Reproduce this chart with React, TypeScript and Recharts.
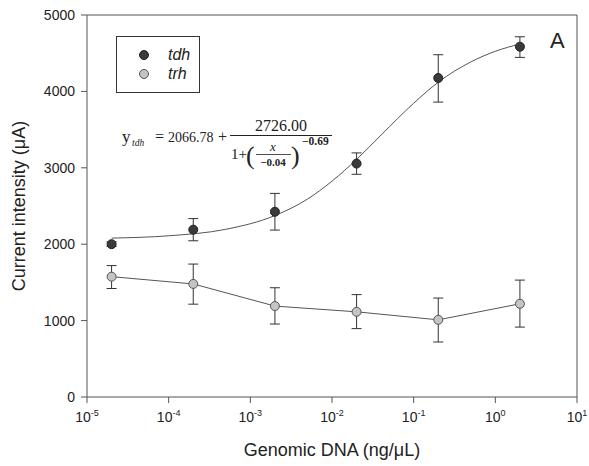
import {
  ComposedChart,
  Customized,
  ErrorBar,
  Legend,
  Line,
  ReferenceLine,
  XAxis,
  YAxis,
} from "recharts";

// measured points (ng/µL)
const concentrations = [2e-5, 2e-4, 2e-3, 2e-2, 2e-1, 2];

const tdhValues = [2000, 2190, 2425, 3055, 4175, 4585];
const tdhLow = [1970, 2045, 2185, 2915, 3860, 4445];
const tdhHigh = [2030, 2335, 2665, 3195, 4480, 4715];

const trhValues = [1575, 1480, 1190, 1115, 1010, 1220];
const trhLow = [1420, 1215, 955, 895, 720, 915];
const trhHigh = [1720, 1740, 1430, 1340, 1295, 1530];

// sigmoid fit for tdh
const fitX = [2e-5, 1e-4, 5e-4, 2e-3, 5e-3, 1e-2, 2e-2, 4e-2, 0.1, 0.2, 0.5, 1, 2];
const fitY = [2080, 2110, 2195, 2375, 2590, 2825, 3110, 3430, 3845, 4120, 4385, 4525, 4620];

const xTicks = [1e-5, 1e-4, 1e-3, 1e-2, 1e-1, 1, 10];
const xTickExponents = ["-5", "-4", "-3", "-2", "-1", "0", "1"];
const yTicks = [0, 1000, 2000, 3000, 4000, 5000];

const withErrors = (values: number[], low: number[], high: number[]) =>
  concentrations.map((x, i) => ({
    x,
    y: values[i],
    err: [values[i] - low[i], high[i] - values[i]],
  }));

const tdhData = withErrors(tdhValues, tdhLow, tdhHigh);
const trhData = withErrors(trhValues, trhLow, trhHigh);
const fitData = fitX.map((x, i) => ({ x, y: fitY[i] }));

const SANS = "'Liberation Sans', Arial, sans-serif";
const SERIF = "'Liberation Serif', 'Times New Roman', serif";
const AXIS = "#555";
const INK = "#222";

function LogTick({ x, y, index }: any) {
  return (
    <text x={x} y={y + 17} textAnchor="middle" fontFamily={SANS} fontSize={14} fill={INK}>
      <tspan>10</tspan>
      <tspan dy={-6} fontSize={9}>
        {xTickExponents[index]}
      </tspan>
    </text>
  );
}

function YLabel({ viewBox }: any) {
  const cx = viewBox.x + 19;
  const cy = viewBox.y + viewBox.height / 2;
  return (
    <text
      x={cx}
      y={cy}
      transform={`rotate(-90 ${cx} ${cy})`}
      textAnchor="middle"
      dominantBaseline="central"
      fontFamily={SANS}
      fontSize={18}
      fill={INK}
    >
      Current intensity (μA)
    </text>
  );
}

function XLabel({ viewBox }: any) {
  return (
    <text
      x={viewBox.x + viewBox.width / 2}
      y={viewBox.y + 59}
      textAnchor="middle"
      fontFamily={SANS}
      fontSize={18}
      fill={INK}
    >
      Genomic DNA (ng/μL)
    </text>
  );
}

function LegendBox() {
  const items = [
    { name: "tdh", fill: "#3a3a3a", stroke: "#222" },
    { name: "trh", fill: "#c4c4c4", stroke: "#555" },
  ];
  return (
    <div
      style={{
        border: "1px solid #333",
        background: "#fff",
        width: 82,
        height: 47,
        boxSizing: "content-box",
        paddingTop: 8,
      }}
    >
      {items.map((it) => (
        <div
          key={it.name}
          style={{ display: "flex", alignItems: "center", height: 19, fontFamily: SANS }}
        >
          <svg width={51} height={19}>
            <circle cx={27} cy={10} r={4.5} fill={it.fill} stroke={it.stroke} />
          </svg>
          <span style={{ fontStyle: "italic", fontSize: 16, color: INK }}>{it.name}</span>
        </div>
      ))}
    </div>
  );
}

function Annotations() {
  return (
    <g fill={INK}>
      <g fontFamily={SERIF}>
        <text x={122} y={142} fontSize={17}>
          y
        </text>
        <text x={132} y={146} fontSize={9.5} fontStyle="italic">
          tdh
        </text>
        <text x={155} y={142} fontSize={16}>
          =
        </text>
        <text x={168} y={142} fontSize={14}>
          2066.78
        </text>
        <text x={218} y={142} fontSize={16}>
          +
        </text>
        <text x={281} y={131} fontSize={16} textAnchor="middle">
          2726.00
        </text>
        <line x1={230} x2={332} y1={135.5} y2={135.5} stroke={INK} strokeWidth={1} />
        <text x={231} y={159} fontSize={15}>
          1+
        </text>
        <text x={246} y={164} fontSize={26}>
          (
        </text>
        <text x={273} y={151} fontSize={13} fontStyle="italic" textAnchor="middle">
          x
        </text>
        <line x1={256} x2={291} y1={154.5} y2={154.5} stroke={INK} strokeWidth={0.8} />
        <text x={273} y={166} fontSize={11} fontWeight="bold" textAnchor="middle">
          −0.04
        </text>
        <text x={291} y={164} fontSize={26}>
          )
        </text>
        <text x={302} y={145} fontSize={11.5} fontWeight="bold">
          −0.69
        </text>
      </g>
      <text x={550} y={48} fontFamily={SANS} fontSize={22}>
        A
      </text>
    </g>
  );
}

export default function App() {
  return (
    <div style={{ position: "absolute", left: 0, top: 0, width: 589, height: 466, background: "#fff" }}>
      <ComposedChart width={589} height={466} margin={{ top: 15, right: 12, left: 0, bottom: 0 }}>
        <XAxis
          dataKey="x"
          type="number"
          scale="log"
          domain={[1e-5, 10]}
          allowDataOverflow
          ticks={xTicks}
          tick={<LogTick />}
          tickSize={6}
          height={69}
          stroke={AXIS}
          label={<XLabel />}
        />
        <YAxis
          type="number"
          domain={[0, 5000]}
          ticks={yTicks}
          width={87}
          tickSize={6}
          tickMargin={6}
          stroke={AXIS}
          tick={{ fill: INK, fontSize: 14, fontFamily: SANS }}
          label={<YLabel />}
        />
        <ReferenceLine y={5000} stroke={AXIS} />
        <ReferenceLine x={10} stroke={AXIS} />

        <Line
          data={fitData}
          dataKey="y"
          type="monotone"
          stroke="#555"
          strokeWidth={1}
          dot={false}
          activeDot={false}
          legendType="none"
          isAnimationActive={false}
        />
        <Line
          data={trhData}
          dataKey="y"
          name="trh"
          type="linear"
          stroke="#555"
          strokeWidth={1}
          dot={{ r: 4.5, fill: "#c4c4c4", stroke: "#555", strokeWidth: 1 }}
          activeDot={false}
          isAnimationActive={false}
        >
          <ErrorBar dataKey="err" direction="y" width={5} stroke="#333" strokeWidth={1} />
        </Line>
        <Line
          data={tdhData}
          dataKey="y"
          name="tdh"
          type="linear"
          stroke="none"
          dot={{ r: 4.5, fill: "#3a3a3a", stroke: "#222", strokeWidth: 1 }}
          activeDot={false}
          isAnimationActive={false}
        >
          <ErrorBar dataKey="err" direction="y" width={5} stroke="#333" strokeWidth={1} />
        </Line>

        <Legend
          layout="vertical"
          align="center"
          verticalAlign="middle"
          content={<LegendBox />}
          wrapperStyle={{ position: "absolute", left: 116, top: 36, width: 84, height: 57 }}
        />
        <Customized component={<Annotations />} />
      </ComposedChart>
    </div>
  );
}
